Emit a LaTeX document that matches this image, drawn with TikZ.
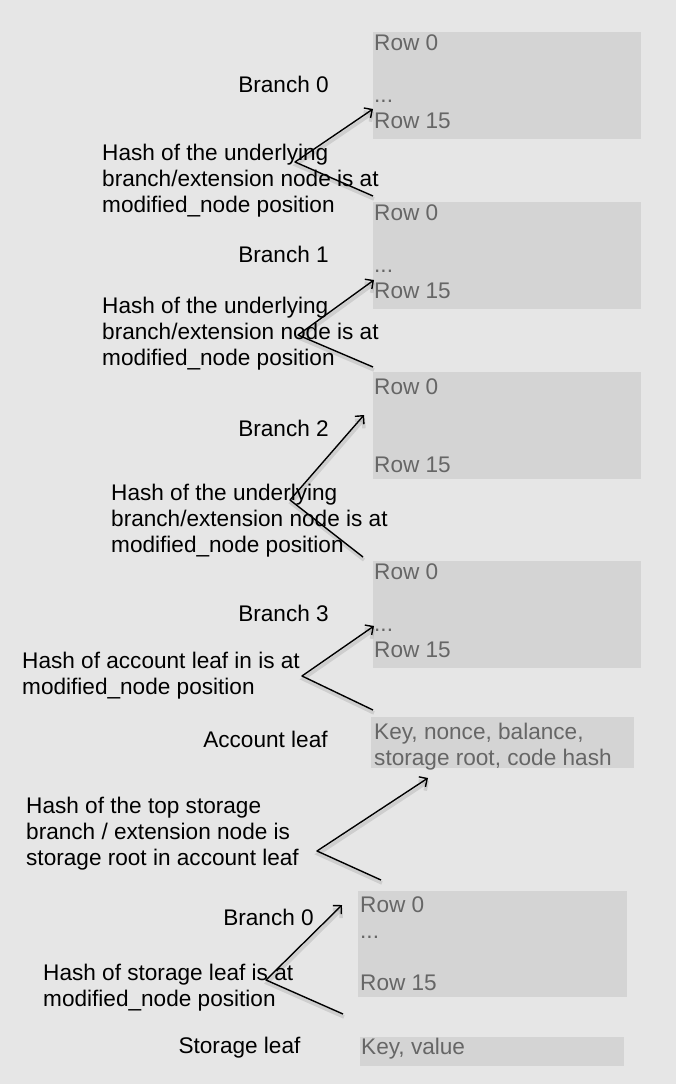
\documentclass[tikz,border=0pt]{standalone}
\usepackage{fontspec}
\setmainfont{Liberation Sans}
\usepackage{tikz}
\usepackage{xcolor}
\usetikzlibrary{arrows.meta}
\definecolor{bggray}{HTML}{E6E6E6}
\definecolor{boxgray}{HTML}{D4D4D4}
\definecolor{rowgray}{HTML}{666666}

\begin{document}
\begin{tikzpicture}[x=1pt,y=-1pt,
    font=\fontsize{22.6}{26}\selectfont,
    box/.style={fill=boxgray, anchor=north west, inner sep=0pt},
    rows/.style={rowgray, anchor=north west, align=left, inner sep=0pt},
    lbl/.style={anchor=base, inner sep=0pt},
    hash/.style={anchor=north west, align=left, inner sep=0pt},
    link/.style={line width=1.4pt, line join=round,
        preaction={draw, black, opacity=.1, line width=3.5pt,
            transform canvas={shift={(1pt,-3pt)}}}},
    tip/.style={-{Straight Barb[length=6pt,width=12pt]}}]
                \fill[bggray] (0,0) rectangle (676,1084);
                % boxes of the account trie
                \node[box, minimum width=268pt, minimum height=107pt] (br0) at (373,32) {};
                \node[rows] (br0rows) at (374,35) {Row 0\\\mbox{}\\...\\Row 15};
                \node[box, minimum width=268pt, minimum height=107pt] (br1) at (373,202) {};
                \node[rows] (br1rows) at (374,205) {Row 0\\\mbox{}\\...\\Row 15};
                \node[box, minimum width=268pt, minimum height=107pt] (br2) at (373,372) {};
                \node[rows] (br2rows) at (374,379) {Row 0\\\mbox{}\\\mbox{}\\Row 15};
                \node[box, minimum width=268pt, minimum height=107pt] (br3) at (373,561) {};
                \node[rows] (br3rows) at (374,564) {Row 0\\\mbox{}\\...\\Row 15};
                \node[box, minimum width=263pt, minimum height=51pt] (acc) at (371,717) {};
                \node[rows] (accrows) at (374,723) {Key, nonce, balance,\\storage root, code hash};
                % boxes of the storage trie
                \node[box, minimum width=269pt, minimum height=106pt] (sbr0) at (358,891) {};
                \node[rows] (sbr0rows) at (360,897) {Row 0\\...\\\mbox{}\\Row 15};
                \node[box, minimum width=264pt, minimum height=29pt] (sleaf) at (360,1037) {};
                \node[rows] (sleafrows) at (361,1038) {Key, value};
                % labels
                \node[lbl] (lbr0) at (283.5,92) {Branch 0};
                \node[lbl] (lbr1) at (283.5,262) {Branch 1};
                \node[lbl] (lbr2) at (283.5,436) {Branch 2};
                \node[lbl] (lbr3) at (283.5,621) {Branch 3};
                \node[lbl] (lacc) at (265.5,747) {Account leaf};
                \node[lbl] (lsbr0) at (268.5,925) {Branch 0};
                \node[lbl] (lsleaf) at (239.5,1053) {Storage leaf};
                \node[hash] (h0) at (102,144) {Hash of the underlying\\branch/extension node is at\\modified\_node position};
                \node[hash] (h1) at (102,297) {Hash of the underlying\\branch/extension node is at\\modified\_node position};
                \node[hash] (h2) at (111,484) {Hash of the underlying\\branch/extension node is at\\modified\_node position};
                \node[hash] (h3) at (22,652) {Hash of account leaf in is at\\modified\_node position};
                \node[hash] (h4) at (26,797) {Hash of the top storage\\branch / extension node is\\storage root in account leaf};
                \node[hash] (h5) at (43,964) {Hash of storage leaf is at\\modified\_node position};
                % connectors
                \coordinate (v0) at (295,162); \coordinate (t0) at (373,109); \coordinate (e0) at (373,196);
                \coordinate (v1) at (298,335); \coordinate (t1) at (374,280); \coordinate (e1) at (373,367);
                \coordinate (v2) at (290,500); \coordinate (t2) at (364,415); \coordinate (e2) at (363,557);
                \coordinate (v3) at (302,676); \coordinate (t3) at (374,626); \coordinate (e3) at (373,710);
                \coordinate (v4) at (317,851); \coordinate (t4) at (428,778); \coordinate (e4) at (381,880);
                \coordinate (v5) at (266,980); \coordinate (t5) at (342,905); \coordinate (e5) at (343,1014);
                \draw[link, tip] (e0) -- (v0) -- (t0);
                \draw[link, tip] (e1) -- (v1) -- (t1);
                \draw[link, tip] (e2) -- (v2) -- (t2);
                \draw[link, tip] (e3) -- (v3) -- (t3);
                \draw[link, tip] (e4) -- (v4) -- (t4);
                \draw[link, tip] (e5) -- (v5) -- (t5);
            \end{tikzpicture}
\end{document}
